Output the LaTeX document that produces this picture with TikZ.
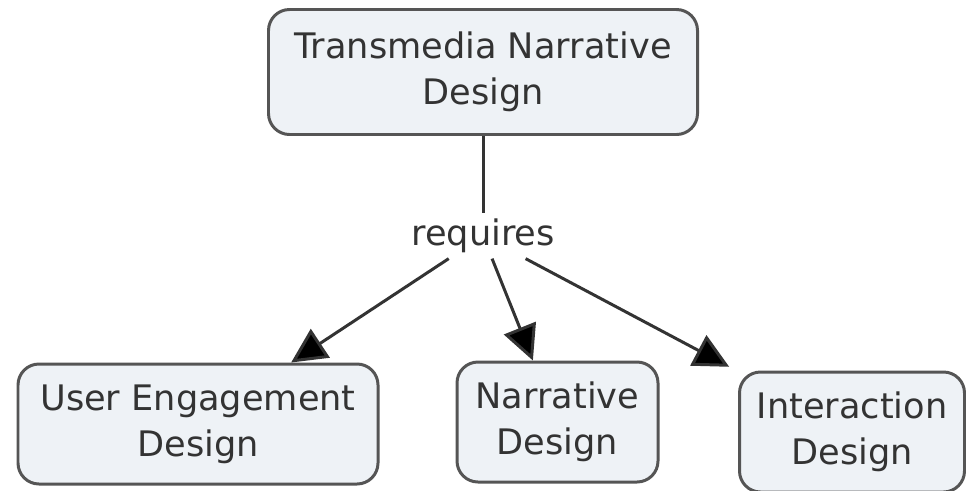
\documentclass[tikz,border=0pt]{standalone}
\usepackage{fontspec}
\setmainfont{DejaVu Sans}
\usetikzlibrary{arrows.meta}
\definecolor{boxfill}{HTML}{EEF2F6}
\definecolor{boxline}{HTML}{555555}
\definecolor{txt}{HTML}{333333}
\tikzset{
  concept/.style={draw=boxline, fill=boxfill, line width=1.7pt, rounded corners=0.42cm,
    align=center, text=txt, font=\fontsize{20}{26}\selectfont},
  link/.style={text=txt, font=\fontsize{20}{26}\selectfont, inner sep=3pt},
  conn/.style={draw=txt, line width=1.7pt},
  tip/.style={-{Triangle[length=0.7cm,width=0.68cm,fill=black]}},
}
\begin{document}
\begin{tikzpicture}
\useasboundingbox (0,0) rectangle (19.32,9.8);
\node [concept, minimum width=8.58cm, minimum height=2.5cm] (tnd) at (9.66,8.36) {Transmedia Narrative\\Design};
\node [link] (req) at (9.66,5.08) {requires};
\node [concept, minimum width=7.2cm, minimum height=2.4cm] (ued) at (3.96,1.32) {User Engagement\\Design};
\node [concept, minimum width=4.02cm, minimum height=2.4cm] (nd) at (11.15,1.36) {Narrative\\Design};
\node [concept, minimum width=4.5cm, minimum height=2.4cm] (id) at (17.04,1.16) {Interaction\\Design};
\draw [conn] (tnd) -- (req);
\draw [conn, tip] (req) -- (ued);
\draw [conn, tip] (req) -- (nd);
\draw [conn, tip, shorten >=0.2cm] (req) -- (id);
\end{tikzpicture}
\end{document}
